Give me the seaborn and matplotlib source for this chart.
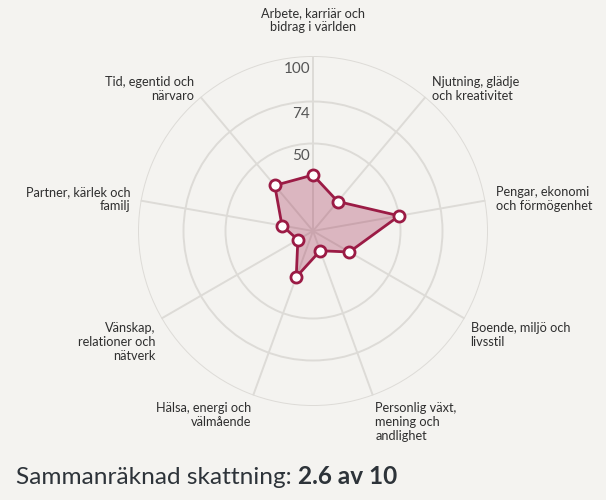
import numpy as np
import matplotlib
matplotlib.use("Agg")
import matplotlib.pyplot as plt
import seaborn as sns
import pandas as pd

categories = [
    "Arbete, karriär och\nbidrag i världen",
    "Njutning, glädje\noch kreativitet",
    "Pengar, ekonomi\noch förmögenhet",
    "Boende, miljö och\nlivsstil",
    "Personlig växt,\nmening och\nandlighet",
    "Hälsa, energi och\nvälmående",
    "Vänskap,\nrelationer och\nnätverk",
    "Partner, kärlek och\nfamilj",
    "Tid, egentid och\nnärvaro",
]
values = [32, 22, 50, 24, 12, 28, 10, 18, 34]
radial_ticks = [50, 74, 100]
radial_labels = ["50", "74", "100"]
title_regular = "Sammanräknad skattning: "
title_bold = "2.6 av 10"

BG = "#f4f3f0"
GRID = "#dddbd7"
LINE = "#9b1b45"
TEXT = "#2f2f2f"

sns.set_theme(style="white")
plt.rcParams["font.family"] = ["Lato", "DejaVu Sans"]

fig = plt.figure(figsize=(6.06, 5.0), dpi=100, facecolor=BG)
ax = fig.add_axes([0.2277, 0.188, 0.5776, 0.70], projection="polar")
ax.set_facecolor(BG)
ax.set_theta_zero_location("N")
ax.set_theta_direction(-1)

n = len(categories)
theta = np.linspace(0, 2 * np.pi, n, endpoint=False)
df = pd.DataFrame({"theta": np.append(theta, theta[0]),
                   "value": values + values[:1]})

ax.set_ylim(0, 100)
ax.set_yticks(radial_ticks)
ax.set_yticklabels([])
ax.set_xticks(theta)
ax.set_xticklabels([])
ax.grid(True, color=GRID, linewidth=1.4)
ax.spines["polar"].set_visible(False)

ax.fill(df["theta"], df["value"], color=LINE, alpha=0.28, zorder=2, linewidth=0)
sns.lineplot(data=df, x="theta", y="value", sort=False, ax=ax,
             color=LINE, linewidth=2.0, zorder=3, estimator=None)
ax.plot(theta, values, linestyle="none", marker="o", markersize=8,
        markerfacecolor="white", markeredgecolor=LINE, markeredgewidth=2.0,
        zorder=4, clip_on=False)
ax.set_xlabel("")
ax.set_ylabel("")

for t, lab in zip(radial_ticks, radial_labels):
    ax.annotate(lab, xy=(0, t), xytext=(-3, -13), textcoords="offset pixels",
                ha="right", va="center", fontsize=11, color="#555555",
                annotation_clip=False)

for ang, lab in zip(theta, categories):
    s, c = np.sin(ang), np.cos(ang)
    if abs(s) < 0.1:
        ha = "center"
    elif s > 0:
        ha = "left"
    else:
        ha = "right"
    if c > 0.9:
        va = "bottom"
        r = 113
    elif c < -0.3:
        va = "top"
        r = 104
    else:
        va = "center"
        r = 106
    ax.text(ang, r, lab, ha=ha, va=va, fontsize=9.2, color=TEXT,
            linespacing=1.2, multialignment=ha if ha != "center" else "center")

t1 = fig.text(16 / 606, 1 - 477 / 500, title_regular, fontsize=17.6,
              color="#2d3339", ha="left", va="center")
fig.canvas.draw()
bb = t1.get_window_extent()
fig.text(bb.x1 / fig.bbox.width, 1 - 477 / 500, title_bold, fontsize=17.6,
         color="#2d3339", ha="left", va="center", fontweight="bold")

fig.savefig("out.png", dpi=100, facecolor=BG)
